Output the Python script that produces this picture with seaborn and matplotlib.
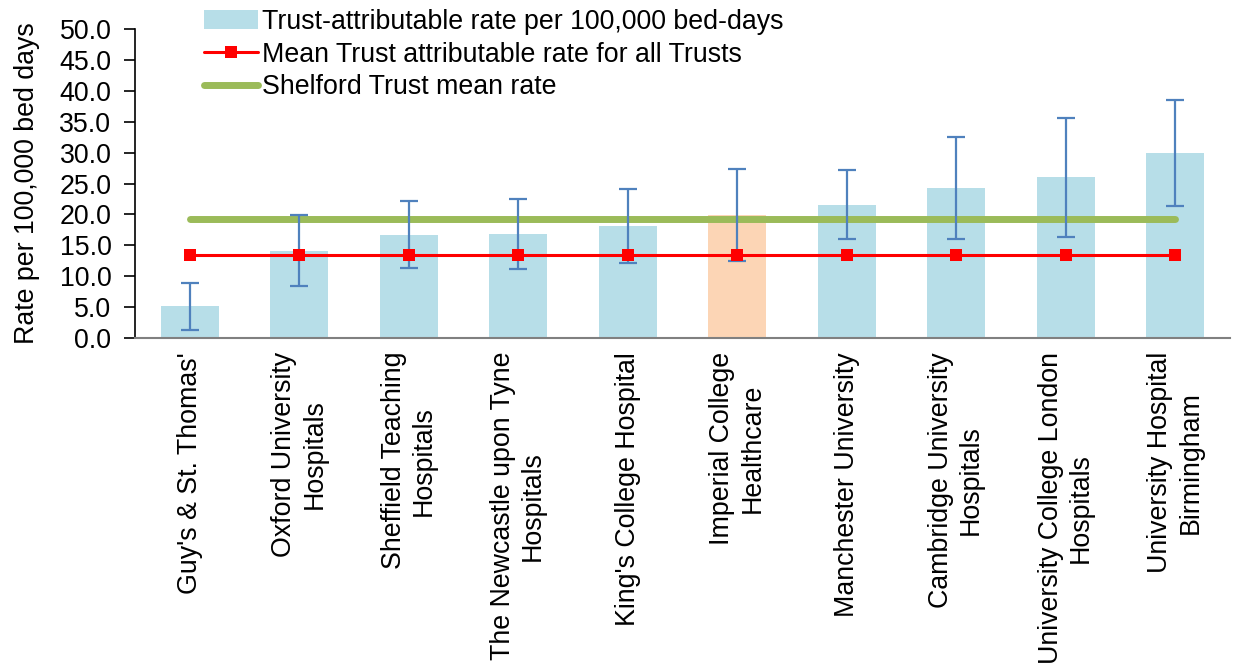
import matplotlib
matplotlib.use("Agg")
import matplotlib.pyplot as plt
from matplotlib.patches import Patch
from matplotlib.lines import Line2D
import seaborn as sns
import pandas as pd
import numpy as np

categories = [
    "Guy's & St. Thomas'",
    "Oxford University\nHospitals",
    "Sheffield Teaching\nHospitals",
    "The Newcastle upon Tyne\nHospitals",
    "King's College Hospital",
    "Imperial College\nHealthcare",
    "Manchester University",
    "Cambridge University\nHospitals",
    "University College London\nHospitals",
    "University Hospital\nBirmingham",
]
rates = [5.2, 14.1, 16.7, 16.8, 18.1, 19.9, 21.6, 24.2, 26.0, 29.9]
ci_upper = [8.9, 19.9, 22.1, 22.5, 24.1, 27.3, 27.2, 32.5, 35.6, 38.5]
ci_lower = [1.3, 8.4, 11.4, 11.1, 12.2, 12.5, 16.1, 16.0, 16.4, 21.4]
mean_all = [13.4] * len(categories)
shelford_mean = [19.3] * len(categories)
highlight = "Imperial College\nHealthcare"

legend_labels = [
    "Trust-attributable rate per 100,000 bed-days",
    "Mean Trust attributable rate for all Trusts",
    "Shelford Trust mean rate",
]

bar_blue = "#B7DEE8"
bar_orange = "#FCD5B5"
err_color = "#4F81BD"
red = "#FF0000"
green = "#9BBB59"

sns.set_theme(style="white")
plt.rcParams["font.family"] = ["Liberation Sans", "DejaVu Sans"]
plt.rcParams["text.color"] = "black"
plt.rcParams["xtick.color"] = "black"
plt.rcParams["ytick.color"] = "black"
plt.rcParams["axes.labelcolor"] = "black"
FS = 19.3

df = pd.DataFrame({"cat": categories, "rate": rates,
                   "lo": ci_lower, "hi": ci_upper,
                   "mean": mean_all, "shelford": shelford_mean})
df["pos"] = np.arange(len(df))

fig = plt.figure(figsize=(12.35, 6.63), dpi=100)
ax = fig.add_axes([135 / 1235, 1 - 338 / 663, (1230 - 135) / 1235, (338 - 29) / 663])

palette = {c: (bar_orange if c == highlight else bar_blue) for c in categories}
sns.barplot(data=df, x="cat", y="rate", hue="cat", palette=palette,
            order=categories, width=0.53, legend=False, ax=ax,
            saturation=1, linewidth=0)

# green Shelford line
sns.lineplot(data=df, x="pos", y="shelford", color=green, linewidth=5,
             solid_capstyle="round", ax=ax, zorder=3)

# error bars
yerr = np.vstack([df["rate"] - df["lo"], df["hi"] - df["rate"]])
ax.errorbar(df["pos"], df["rate"], yerr=yerr, fmt="none", ecolor=err_color,
            elinewidth=1.6, capsize=6.5, capthick=1.6, zorder=4)

# red mean line
sns.lineplot(data=df, x="pos", y="mean", color=red, linewidth=2.2,
             marker="s", markersize=8, markeredgewidth=0, ax=ax, zorder=5)

ax.set_xlim(-0.5, len(categories) - 0.5)
ax.set_ylim(0, 50)
ax.set_yticks(np.arange(0, 50.1, 5))
ax.set_yticklabels([f"{v:.1f}" for v in np.arange(0, 50.1, 5)], fontsize=FS)
ax.set_ylabel("Rate per 100,000 bed days", fontsize=FS, labelpad=14)
ax.set_xlabel("")

ax.set_xticks(np.arange(len(categories)))
ax.set_xticklabels(categories, rotation=90, fontsize=FS, ha="center", va="top",
                   multialignment="center")
ax.set_xticks(np.arange(-0.5, len(categories)), minor=True)
ax.tick_params(axis="x", which="major", length=0, pad=10)
ax.tick_params(axis="x", which="minor", length=8, width=1.2, color="#808080", direction="out")
ax.tick_params(axis="y", which="major", length=8, width=1.2, color="black", direction="out",
               left=True, pad=9)

for s in ["top", "right"]:
    ax.spines[s].set_visible(False)
ax.spines["left"].set_color("black")
ax.spines["left"].set_linewidth(1.2)
ax.spines["bottom"].set_color("#808080")
ax.spines["bottom"].set_linewidth(1.5)
ax.grid(False)

handles = [
    Patch(facecolor=bar_blue, edgecolor="none"),
    Line2D([0], [0], color=red, linewidth=2.2, marker="s", markersize=8, markeredgewidth=0),
    Line2D([0], [0], color=green, linewidth=5, solid_capstyle="round"),
]
fig.legend(handles, legend_labels, loc="upper left",
           bbox_to_anchor=(204 / 1235, 1 - 9 / 663), frameon=False,
           fontsize=FS, handlelength=2.0, handletextpad=0.15,
           labelspacing=0.25, borderaxespad=0, borderpad=0)

fig.savefig("out.png", dpi=100)
